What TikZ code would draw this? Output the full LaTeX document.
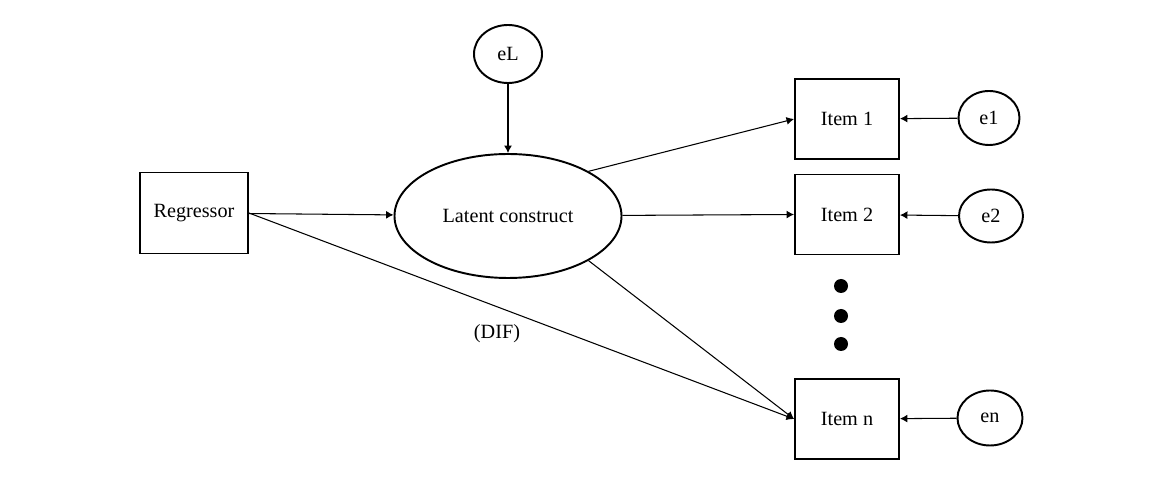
\documentclass[tikz,border=0pt]{standalone}
\usepackage{fontspec}
\setmainfont{Liberation Serif}
\usetikzlibrary{shapes.geometric,arrows.meta}

\begin{document}
\begin{tikzpicture}[
  font=\fontsize{11.5}{13}\selectfont,
  obs/.style={draw,line width=1.1pt,minimum width=2.08cm,minimum height=1.6cm},
  lat/.style={draw,ellipse,line width=1.1pt,inner sep=0pt},
  path/.style={line width=.6pt,-{Latex[length=1.5mm,width=1.6mm]}}]
\useasboundingbox (0,0) rectangle (23.28,9.58);
\node[obs,minimum width=2.16cm,minimum height=1.62cm] (reg) at (3.88,5.32) {Regressor};
\node[lat,minimum width=4.54cm,minimum height=2.48cm] (lc) at (10.16,5.26) {Latent construct};
\node[lat,minimum width=1.36cm,minimum height=1.16cm] (eL) at (10.16,8.5) {eL};
\node[obs] (i1) at (16.94,7.2) {Item 1};
\node[obs] (i2) at (16.94,5.29) {Item 2};
\node[obs] (in) at (16.94,1.2) {Item n};
\node[lat,minimum width=1.22cm,minimum height=1.08cm] (e1) at (19.78,7.22) {e1};
\node[lat,minimum width=1.28cm,minimum height=1.06cm] (e2) at (19.82,5.26) {e2};
\node[lat,minimum width=1.3cm,minimum height=1.1cm] (en) at (19.8,1.22) {en};
%\node at (16.82,3.26) {$\vdots$};
\fill (16.82,3.86) circle (.14);
\fill (16.82,3.26) circle (.14);
\fill (16.82,2.7) circle (.14);
\node (dif) at (9.94,2.9) {(DIF)};
\draw[path] (eL) -- (lc);
\draw[path] (reg) -- (lc);
\draw[path] (reg.east) -- (in.west);
\draw[path] (lc.29) -- (i1.west);
\draw[path] (lc) -- (i2.west);
\draw[path] (lc.-29) -- (in.west);
\draw[path] (e1) -- (i1);
\draw[path] (e2) -- (i2);
\draw[path] (en) -- (in);
\end{tikzpicture}
\end{document}
